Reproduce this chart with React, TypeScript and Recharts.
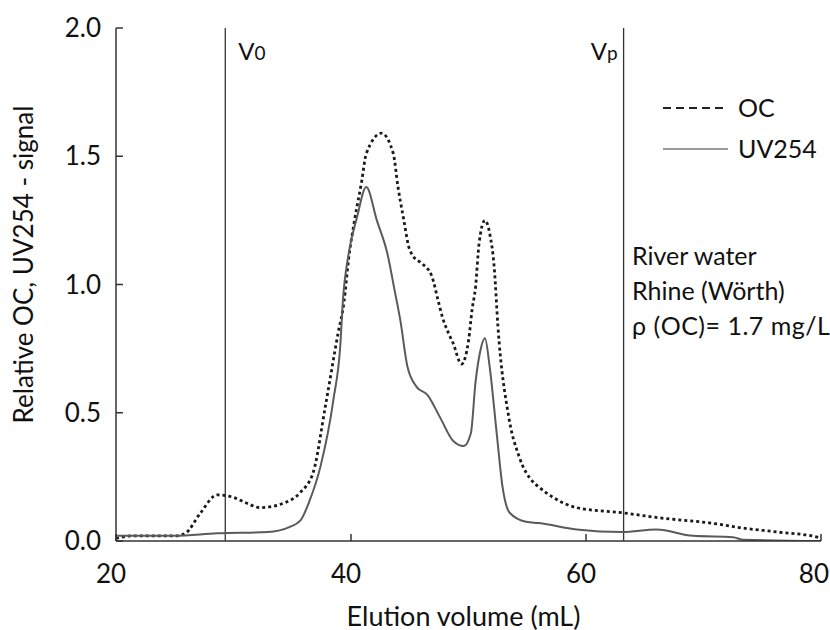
import { LineChart, Line, XAxis, YAxis, ReferenceLine, Legend, Label } from "recharts"

// elution volume (mL) and relative signal
const ocVolume = [20, 21.4, 23, 25, 25.9, 27.2, 28.6, 30, 31, 32.3, 34.4, 35.7, 36.8, 37.8, 38.9, 39.4, 39.8, 40.3, 40.9, 41.3, 42.6, 43.6, 44.0, 44.5, 44.9, 45.3, 46.1, 46.9, 47.4, 47.8, 48.3, 48.7, 49.4, 50.0, 50.3, 50.6, 50.9, 51.4, 51.8, 52.2, 52.5, 53.4, 54.3, 55.5, 56.0, 57.2, 59.2, 63.1, 66.3, 70.6, 73.4, 76.3, 79.7, 80]
const ocSignal = [0.01, 0.02, 0.02, 0.02, 0.03, 0.11, 0.18, 0.17, 0.15, 0.13, 0.15, 0.19, 0.27, 0.52, 0.81, 0.93, 1.1, 1.25, 1.4, 1.51, 1.59, 1.51, 1.38, 1.25, 1.15, 1.11, 1.08, 1.03, 0.94, 0.87, 0.81, 0.77, 0.69, 0.78, 0.9, 0.99, 1.16, 1.25, 1.2, 1.06, 0.84, 0.49, 0.33, 0.23, 0.21, 0.17, 0.13, 0.11, 0.09, 0.07, 0.05, 0.035, 0.015, 0.01]

const uvVolume = [20, 21.4, 25, 28.6, 32.9, 34.8, 35.7, 36.5, 37.4, 38.5, 39.1, 39.3, 39.8, 40.5, 41.3, 42.2, 43.1, 43.7, 44.2, 44.8, 45.6, 46.5, 47.6, 48.7, 49.6, 50.2, 50.6, 51.0, 51.4, 51.8, 52.4, 52.9, 53.5, 54.9, 56.0, 59.2, 63.1, 66.0, 69.1, 72.5, 73.4, 80]
const uvSignal = [0.02, 0.02, 0.02, 0.03, 0.035, 0.055, 0.08, 0.16, 0.29, 0.55, 0.77, 0.93, 1.12, 1.26, 1.38, 1.25, 1.12, 0.98, 0.86, 0.68, 0.6, 0.57, 0.48, 0.39, 0.37, 0.42, 0.62, 0.74, 0.79, 0.68, 0.42, 0.21, 0.11, 0.075, 0.07, 0.045, 0.035, 0.045, 0.02, 0.015, 0.005, 0]

const xTicks = [20, 40, 60, 80]
const yTicks = [0, 0.5, 1.0, 1.5, 2.0]
const v0Volume = 29.3
const vpVolume = 63.2
const seriesNames = ["OC", "UV254"]
const sampleLines = ["River water", "Rhine (Wörth)"]
const concentrationNote = "ρ (OC)= 1.7 mg/L"

const ocData = ocVolume.map((v, i) => ({ volume: v, signal: ocSignal[i] }))
const uvData = uvVolume.map((v, i) => ({ volume: v, signal: uvSignal[i] }))

const FONT = "Lato, 'Open Sans', sans-serif"
const INK = "#111"

// x tick labels sit a touch left of their marks in the original; keep "80" inside the frame
function XTick({ x, y, payload }: any) {
  const last = payload.value === xTicks[xTicks.length - 1]
  return (
    <text
      x={last ? x + 8 : x - 5}
      y={y}
      dy="0.71em"
      textAnchor={last ? "end" : "middle"}
      fontSize={26}
      fontFamily={FONT}
      fill={INK}
    >
      {payload.value}
    </text>
  )
}

function LegendBox() {
  return (
    <div style={{ fontFamily: FONT, fontSize: 25, color: INK, lineHeight: "41px" }}>
      {seriesNames.map((name, i) => (
        <div key={name} style={{ display: "flex", alignItems: "center" }}>
          <svg width={75} height={10}>
            <line
              x1={8} y1={5} x2={73} y2={5}
              stroke={i === 0 ? "#222" : "#777"}
              strokeWidth={i === 0 ? 2 : 1.5}
              strokeDasharray={i === 0 ? "8 5" : undefined}
            />
          </svg>
          <span style={{ marginLeft: 8 }}>{name}</span>
        </div>
      ))}
    </div>
  )
}

export default function App() {
  return (
    <div style={{ position: "absolute", left: 0, top: 0, width: 830, height: 630, background: "#fff" }}>
      <LineChart width={830} height={630} margin={{ top: 28, right: 9, bottom: 29, left: 56 }}>
        <XAxis
          dataKey="volume"
          type="number"
          domain={[20, 80]}
          ticks={xTicks}
          allowDataOverflow
          stroke="#333"
          strokeWidth={1.5}
          height={60}
          tickSize={-7}
          tickMargin={31}
          tick={<XTick />}
        >
          <Label
            content={({ viewBox }: any) => (
              <text x={viewBox.x + viewBox.width / 2 - 5} y={viewBox.y + 74} textAnchor="middle" dominantBaseline="central" fontSize={27} fontFamily={FONT} fill={INK}>
                Elution volume (mL)
              </text>
            )}
          />
        </XAxis>
        <XAxis xAxisId="top" orientation="top" type="number" domain={[20, 80]} tick={false} tickLine={false} height={0} stroke="#333" strokeWidth={1.5} />
        <YAxis
          type="number"
          domain={[0, 2]}
          ticks={yTicks}
          allowDataOverflow
          stroke="#333"
          strokeWidth={1.5}
          width={60}
          tickSize={-7}
          tickMargin={22}
          tickFormatter={(v: number) => v.toFixed(1)}
          tick={{ fontSize: 26, fill: INK, fontFamily: FONT }}
        >
          <Label
            content={({ viewBox }: any) => {
              const cx = viewBox.x - 33
              const cy = viewBox.y + viewBox.height / 2 - 20
              return (
                <text x={cx} y={cy} transform={`rotate(-90 ${cx} ${cy})`} textAnchor="middle" dominantBaseline="central" fontSize={26} fontFamily={FONT} fill={INK}>
                  Relative OC, UV254 - signal
                </text>
              )
            }}
          />
        </YAxis>
        <YAxis yAxisId="right" orientation="right" type="number" domain={[0, 2]} tick={false} tickLine={false} width={0} stroke="#333" strokeWidth={1.5} />

        <ReferenceLine
          x={v0Volume}
          stroke="#333"
          strokeWidth={1.3}
          label={{
            content: ({ viewBox }: any) => (
              <text x={viewBox.x + 13} y={viewBox.y + 32} fontSize={24} fontFamily={FONT} fill={INK}>
                V<tspan fontSize={19}>0</tspan>
              </text>
            ),
          }}
        />
        <ReferenceLine
          x={vpVolume}
          stroke="#333"
          strokeWidth={1.3}
          label={{
            content: ({ viewBox }: any) => (
              <text x={viewBox.x - 6} y={viewBox.y + 32} textAnchor="end" fontSize={24} fontFamily={FONT} fill={INK}>
                V<tspan fontSize={19}>p</tspan>
              </text>
            ),
          }}
        />

        <Line
          data={ocData}
          dataKey="signal"
          name={seriesNames[0]}
          type="monotone"
          stroke="#1a1a1a"
          strokeWidth={2.8}
          strokeDasharray="3 3"
          dot={false}
          isAnimationActive={false}
        />
        <Line
          data={uvData}
          dataKey="signal"
          name={seriesNames[1]}
          type="monotone"
          stroke="#5a5a5a"
          strokeWidth={2}
          dot={false}
          isAnimationActive={false}
        />

        <Legend
          layout="horizontal"
          verticalAlign="middle"
          align="center"
          content={() => <LegendBox />}
          wrapperStyle={{ top: 87, left: 655, width: 170, height: 90 }}
        />
      </LineChart>

      <div style={{ position: "absolute", left: 632, top: 238, width: 196, fontFamily: FONT, color: INK, fontSize: 25, lineHeight: "35px", whiteSpace: "nowrap" }}>
        {sampleLines.map((t) => (
          <div key={t}>{t}</div>
        ))}
        <div style={{ letterSpacing: 0.5 }}>{concentrationNote}</div>
      </div>
    </div>
  )
}
